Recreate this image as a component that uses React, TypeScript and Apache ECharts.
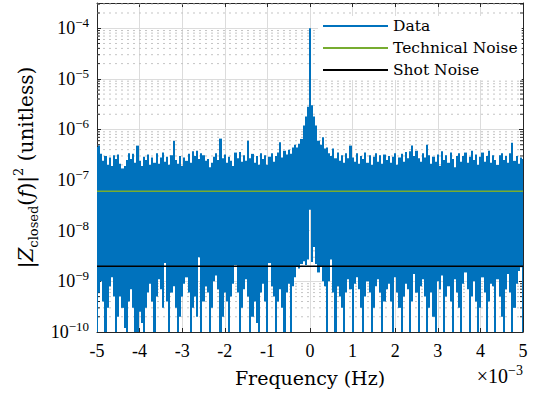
import React, { useEffect, useRef } from "react";
import * as echarts from "echarts";

// Frequency grid (units of 1e-3 Hz): evenly spaced bins centred at freqStart + i*binStep
const freqStart = -5;
const binStep = 0.05;

// Upper envelope of |Z|^2 per bin, in units of 1e-7
const dataHighE7 = [
  4.5, 4.8, 3.3, 2.4, 3.0, 2.0, 2.8, 1.9, 3.1, 2.6,
  3.2, 2.1, 1.7, 1.9, 2.5, 3.4, 2.6, 3.3, 2.2, 4.8,
  2.4, 1.9, 2.9, 2.5, 3.2, 2.0, 2.8, 2.2, 3.4, 2.1,
  2.8, 3.5, 2.3, 2.9, 2.0, 3.1, 6.0, 2.5, 2.1, 3.0,
  1.9, 2.8, 2.4, 3.3, 2.2, 3.7, 3.0, 3.8, 2.6, 3.4,
  3.1, 2.4, 2.6, 1.8, 2.2, 2.9, 3.4, 2.5, 6.6, 2.7,
  3.2, 2.2, 2.9, 2.4, 1.9, 3.5, 2.7, 3.6, 2.3, 3.1,
  2.4, 6.0, 2.7, 3.3, 2.2, 3.0, 2.0, 3.4, 2.6, 3.1,
  2.0, 2.9, 3.4, 2.3, 3.0, 3.5, 5.6, 2.8, 3.8, 3.2,
  4.0, 3.3, 4.4, 5.0, 4.4, 5.2, 6.5, 12, 18, 28,
  1000, 30, 18, 12, 6.0, 5.0, 7.0, 4.2, 4.4, 3.4,
  3.0, 4.2, 2.7, 3.5, 2.4, 3.1, 2.2, 3.4, 2.7, 4.8,
  2.8, 2.3, 3.4, 2.1, 3.0, 2.6, 3.5, 2.2, 3.1, 2.0,
  2.9, 3.4, 2.3, 3.1, 2.1, 3.2, 2.5, 3.0, 2.2, 2.9,
  3.4, 2.0, 2.8, 3.3, 2.3, 3.6, 2.7, 3.7, 4.8, 3.0,
  3.8, 2.7, 2.3, 3.4, 2.8, 5.0, 3.1, 2.1, 2.9, 2.3,
  3.2, 1.9, 3.7, 2.5, 3.1, 2.2, 3.5, 2.6, 1.8, 3.0,
  3.4, 2.3, 3.0, 3.5, 2.2, 2.9, 3.8, 2.5, 3.2, 2.0,
  2.9, 3.5, 2.3, 3.0, 3.8, 2.2, 3.1, 2.5, 2.0, 3.1,
  3.4, 2.5, 3.0, 2.2, 3.4, 5.5, 2.4, 3.0, 2.1, 2.8,
  2.6,
];

// Lower envelope of |Z|^2 per bin, in units of 1e-10 (values < 1 fall below the axis)
const dataLowE10 = [
  0.4, 6, 10, 4, 0.5, 3, 8, 12, 5, 0.4,
  2, 5, 3, 1.2, 0.4, 4, 7, 3, 0.5, 0.4,
  2.5, 1.5, 0.6, 3, 6, 9, 4, 0.4, 5, 11,
  7, 3, 23, 4, 0.5, 6, 8, 3, 0.4, 2,
  5, 9, 12, 6, 0.4, 3, 5, 2, 30, 0.5,
  4, 8, 6, 0.4, 3, 10, 13, 7, 0.5, 2,
  6, 4, 0.4, 5, 9, 21, 6, 0.5, 3, 7,
  11, 5, 0.4, 2, 4, 1.5, 0.5, 6, 9, 4,
  0.4, 23, 8, 5, 0.5, 4, 7, 3, 0.4, 6,
  9, 0.5, 8, 12, 20, 18, 22, 25, 21, 27,
  260, 24, 48, 22, 15, 20, 10, 8, 0.5, 10,
  27, 6, 0.4, 8, 5, 3, 0.5, 6, 11, 7,
  0.4, 9, 12, 7, 3, 0.5, 5, 10, 6, 0.4,
  3, 8, 11, 6, 0.4, 4, 7, 9, 4, 0.4,
  12, 6, 3, 0.5, 5, 9, 7, 0.4, 4, 14,
  6, 0.4, 8, 11, 5, 0.5, 3, 6, 2, 0.4,
  10, 7, 13, 0.4, 5, 8, 4, 0.5, 11, 6,
  3, 0.4, 9, 15, 7, 0.5, 5, 10, 4, 0.4,
  3, 12, 6, 0.5, 4, 9, 8, 0.4, 11, 5,
  2, 0.5, 7, 14, 6, 0.4, 3, 9, 16, 19,
  0.5,
];

const technicalNoise = 6.0e-8;
const shotNoise = 2.0e-9;

const xMin = -5;
const xMax = 5;
const xInterval = 1;
const yMin = 1e-10;
const yMax = 3.15e-4;
const minorMultipliers = [2, 3, 4, 5, 6, 7, 8, 9];
const minorDecades = [-10, -9, -8, -7, -6, -5, -4];
const seriesNames = ["Data", "Technical Noise", "Shot Noise"];

const AX = "#262626";
const BLUE = "#0072BD";
const GREEN = "#77AC30";
const NUM_FONT = "Liberation Serif";
const TXT_FONT = "DejaVu Serif";

export default function App() {
  const ref = useRef<HTMLDivElement>(null);

  useEffect(() => {
    if (!ref.current) return;
    const chart = echarts.init(ref.current, null, { renderer: "svg" });

    const bins: number[][] = dataHighE7.map((h, i) => [
      freqStart + i * binStep,
      dataLowE10[i] * 1e-10,
      h * 1e-7,
    ]);

    const minorVals: number[][] = [];
    minorDecades.forEach((d) =>
      minorMultipliers.forEach((m) => {
        const v = m * Math.pow(10, d);
        if (v < yMax) minorVals.push([0, v]);
      })
    );

    const yLabelFmt = (v: number) => {
      const e = Math.log10(v);
      const r = Math.round(e);
      if (Math.abs(e - r) > 0.01) return "";
      return "{b|10}{e|" + (r < 0 ? "\u2212" + -r : String(r)) + "}";
    };

    const option: any = {
      animation: false,
      backgroundColor: "#ffffff",
      grid: { left: 97, top: 3, width: 426, height: 329, containLabel: false },
      legend: {
        data: seriesNames,
        orient: "vertical",
        left: 318,
        top: 16,
        itemWidth: 65,
        itemHeight: 2,
        icon: "rect",
        itemGap: 6,
        backgroundColor: "#ffffff",
        padding: [2, 4, 2, 5],
        textStyle: { fontFamily: TXT_FONT, fontSize: 15.5, color: "#000" },
      },
      xAxis: [
        {
          type: "value",
          position: "bottom",
          min: xMin,
          max: xMax,
          interval: xInterval,
          name: "Frequency (Hz)",
          nameLocation: "middle",
          nameGap: 36,
          nameTextStyle: { fontFamily: TXT_FONT, fontSize: 19, color: "#000" },
          axisLine: { show: true, onZero: false, lineStyle: { color: AX, width: 1 } },
          axisTick: { show: true, inside: true, length: 4, lineStyle: { color: AX } },
          axisLabel: {
            margin: 10,
            fontFamily: NUM_FONT,
            fontSize: 18,
            color: "#000",
            formatter: (v: number) => String(v),
          },
          splitLine: { show: true, lineStyle: { color: "#dcdcdc", width: 1 } },
        },
        {
          type: "value",
          position: "top",
          min: xMin,
          max: xMax,
          interval: xInterval,
          axisLine: { show: true, onZero: false, lineStyle: { color: AX, width: 1 } },
          axisTick: { show: true, inside: true, length: 4, lineStyle: { color: AX } },
          axisLabel: { show: false },
          splitLine: { show: false },
        },
      ],
      yAxis: [
        {
          type: "log",
          position: "left",
          min: yMin,
          max: yMax,
          logBase: 10,
          name: "{n||}{i|Z}{s|closed}{n|(}{i|f}{n|)|}{p|2}{n| (unitless)}",
          nameLocation: "middle",
          nameRotate: 90,
          nameGap: 56,
          nameTextStyle: {
            fontFamily: TXT_FONT,
            fontSize: 20,
            color: "#000",
            rich: {
              n: { fontFamily: TXT_FONT, fontSize: 20, lineHeight: 28, color: "#000" },
              i: { fontFamily: TXT_FONT, fontSize: 20, lineHeight: 28, fontStyle: "italic", color: "#000" },
              s: { fontFamily: TXT_FONT, fontSize: 13, lineHeight: 13, verticalAlign: "bottom", color: "#000" },
              p: { fontFamily: TXT_FONT, fontSize: 13, lineHeight: 13, verticalAlign: "top", color: "#000" },
            },
          },
          axisLine: { show: true, onZero: false, lineStyle: { color: AX, width: 1 } },
          axisTick: { show: true, inside: true, length: 4, lineStyle: { color: AX } },
          axisLabel: {
            margin: 8,
            showMaxLabel: false,
            formatter: yLabelFmt,
            rich: {
              b: { fontFamily: NUM_FONT, fontSize: 18, lineHeight: 24, color: "#000" },
              e: { fontFamily: NUM_FONT, fontSize: 13, lineHeight: 13, verticalAlign: "top", color: "#000" },
            },
          },
          splitLine: { show: true, lineStyle: { color: "#dcdcdc", width: 1 } },
        },
        {
          type: "log",
          position: "right",
          min: yMin,
          max: yMax,
          logBase: 10,
          axisLine: { show: true, onZero: false, lineStyle: { color: AX, width: 1 } },
          axisTick: { show: true, inside: true, length: 4, lineStyle: { color: AX } },
          axisLabel: { show: false },
          splitLine: { show: false },
        },
      ],
      graphic: [
        {
          type: "text",
          right: 10,
          top: 363,
          style: {
            text: "{a|\u00d710}{b|\u22123}",
            rich: {
              a: { fontFamily: NUM_FONT, fontSize: 20, lineHeight: 26, fill: "#000" },
              b: { fontFamily: NUM_FONT, fontSize: 14, lineHeight: 14, verticalAlign: "top", fill: "#000" },
            },
          },
        },
      ],
      series: [
        {
          type: "custom",
          name: "minor",
          z: 1,
          silent: true,
          xAxisIndex: 0,
          yAxisIndex: 0,
          data: minorVals,
          encode: { x: 0, y: 1 },
          renderItem: (params: any, api: any) => {
            const v = api.value(1);
            const a = api.coord([xMin, v]);
            const b = api.coord([xMax, v]);
            return {
              type: "group",
              children: [
                {
                  type: "line",
                  shape: { x1: a[0], y1: a[1], x2: b[0], y2: b[1] },
                  style: { stroke: "#c4c4c4", lineWidth: 1, lineDash: [2, 4] },
                },
                {
                  type: "line",
                  shape: { x1: a[0], y1: a[1], x2: a[0] + 3, y2: a[1] },
                  style: { stroke: AX, lineWidth: 1 },
                },
                {
                  type: "line",
                  shape: { x1: b[0] - 3, y1: b[1], x2: b[0], y2: b[1] },
                  style: { stroke: AX, lineWidth: 1 },
                },
              ],
            };
          },
        },
        {
          type: "custom",
          name: seriesNames[0],
          z: 2,
          silent: true,
          clip: true,
          xAxisIndex: 0,
          yAxisIndex: 0,
          data: bins,
          encode: { x: 0, y: [1, 2] },
          itemStyle: { color: BLUE },
          renderItem: (params: any, api: any) => {
            const x = api.value(0);
            const lo = Math.max(api.value(1), yMin);
            const hi = api.value(2);
            const pL = api.coord([x - binStep / 2, hi]);
            const pR = api.coord([x + binStep / 2, lo]);
            const x0 = Math.round(pL[0]);
            const x1 = Math.round(pR[0]);
            return {
              type: "rect",
              shape: {
                x: x0,
                y: pL[1],
                width: Math.max(1, x1 - x0),
                height: pR[1] - pL[1],
              },
              style: { fill: BLUE },
            };
          },
        },
        {
          type: "line",
          name: seriesNames[1],
          z: 3,
          data: [
            [xMin, technicalNoise],
            [xMax, technicalNoise],
          ],
          symbol: "none",
          showSymbol: false,
          color: GREEN,
          itemStyle: { color: GREEN },
          lineStyle: { color: GREEN, width: 1.5 },
        },
        {
          type: "line",
          name: seriesNames[2],
          z: 3,
          data: [
            [xMin, shotNoise],
            [xMax, shotNoise],
          ],
          symbol: "none",
          showSymbol: false,
          color: "#000000",
          itemStyle: { color: "#000000" },
          lineStyle: { color: "#000000", width: 1.5 },
        },
      ],
    };

    chart.setOption(option);
    return () => chart.dispose();
  }, []);

  return (
    <div
      ref={ref}
      style={{ position: "fixed", left: 0, top: 0, width: 533, height: 393 }}
    />
  );
}
